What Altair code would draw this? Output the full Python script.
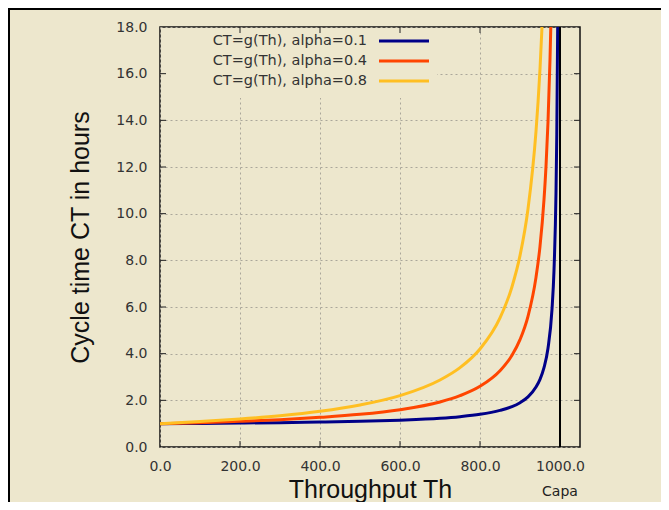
import altair as alt
import pandas as pd

# ---- data ----
th_a01 = [0, 100, 200, 300, 400, 500, 600, 700, 750, 800, 850, 880, 900, 920, 940, 950, 960, 970, 980, 985, 990, 992, 994.2]
ct_a01 = [1.00, 1.01, 1.03, 1.04, 1.07, 1.10, 1.15, 1.23, 1.30, 1.40, 1.57, 1.73, 1.90, 2.15, 2.57, 2.90, 3.40, 4.23, 5.90, 7.57, 10.90, 13.40, 18.0]
th_a04 = [0, 100, 200, 300, 400, 500, 600, 700, 750, 800, 850, 880, 900, 920, 940, 950, 960, 965, 970, 975, 977]
ct_a04 = [1.00, 1.04, 1.10, 1.17, 1.27, 1.40, 1.60, 1.93, 2.20, 2.60, 3.27, 3.93, 4.60, 5.60, 7.27, 8.60, 10.60, 12.03, 13.93, 16.60, 18.0]
th_a08 = [0, 100, 200, 300, 400, 500, 600, 700, 750, 800, 850, 880, 900, 920, 940, 945, 950, 955]
ct_a08 = [1.00, 1.09, 1.20, 1.34, 1.53, 1.80, 2.20, 2.87, 3.40, 4.20, 5.53, 6.87, 8.20, 10.20, 13.53, 14.75, 16.20, 18.0]

series_labels = ["CT=g(Th), alpha=0.1", "CT=g(Th), alpha=0.4", "CT=g(Th), alpha=0.8"]
series_colors = ["#000088", "#ff4500", "#ffbf22"]
series_th = [th_a01, th_a04, th_a08]
series_ct = [ct_a01, ct_a04, ct_a08]

capacity = [1000]
capa_label = ["Capa"]
x_ticks = [0, 200, 400, 600, 800, 1000]
y_ticks = [0, 2, 4, 6, 8, 10, 12, 14, 16, 18]

BG = "#ede7cd"
W, H = 420, 420

xscale = alt.Scale(domain=[0, 1050], nice=False, zero=False)
yscale = alt.Scale(domain=[0, 18], nice=False, zero=False)

xaxis = alt.Axis(values=x_ticks, format=".1f", title="Throughput Th", grid=True,
                 ticks=False, domain=False, labelPadding=12, labelFlush=False,
                 titleBaseline="alphabetic", titleY=50)
yaxis = alt.Axis(values=y_ticks, format=".1f", title="Cycle time CT in hours", grid=True,
                 ticks=False, domain=False, labelPadding=13, titlePadding=22)

# base layer carrying axes (invisible points)
base_df = pd.DataFrame({"th": [0], "ct": [0]})
base = alt.Chart(base_df).mark_point(opacity=0).encode(
    x=alt.X("th:Q", scale=xscale, axis=xaxis),
    y=alt.Y("ct:Q", scale=yscale, axis=yaxis),
)

# mask of legend box over grid
mask = alt.Chart(base_df).mark_rect(fill=BG, stroke=None).encode(
    x=alt.value(1), x2=alt.value(277), y=alt.value(1), y2=alt.value(71)
)

layers = [base, mask]

# inward tick marks (bottom, top, left, right)
xt = pd.DataFrame({"th": x_ticks[1:-1]})
yt = pd.DataFrame({"ct": y_ticks[1:-1]})
tick_style = dict(color="#222222", strokeWidth=1)
layers.append(alt.Chart(xt).mark_rule(**tick_style).encode(
    x=alt.X("th:Q", scale=xscale), y=alt.value(H), y2=alt.value(H - 6)))
layers.append(alt.Chart(xt).mark_rule(**tick_style).encode(
    x=alt.X("th:Q", scale=xscale), y=alt.value(0), y2=alt.value(6)))
layers.append(alt.Chart(yt).mark_rule(**tick_style).encode(
    y=alt.Y("ct:Q", scale=yscale), x=alt.value(0), x2=alt.value(6)))
layers.append(alt.Chart(yt).mark_rule(**tick_style).encode(
    y=alt.Y("ct:Q", scale=yscale), x=alt.value(W), x2=alt.value(W - 6)))

# curves
for lab, col, th, ct in zip(series_labels, series_colors, series_th, series_ct):
    df = pd.DataFrame({"th": th, "ct": ct})
    layers.append(alt.Chart(df).mark_line(color=col, strokeWidth=3, interpolate="monotone").encode(
        x=alt.X("th:Q", scale=xscale), y=alt.Y("ct:Q", scale=yscale)))

# capacity line
cap_df = pd.DataFrame({"th": capacity, "label": capa_label})
layers.append(alt.Chart(cap_df).mark_rule(color="black", strokeWidth=2).encode(
    x=alt.X("th:Q", scale=xscale), y=alt.datum(0, scale=yscale), y2=alt.datum(18)))
layers.append(alt.Chart(cap_df).mark_text(font="DejaVu Sans", fontSize=14, color="#222222",
                                          baseline="middle").encode(
    x=alt.X("th:Q", scale=xscale), y=alt.value(H + 45), text="label:N"))

# manual legend (label left, sample right)
for i, (lab, col) in enumerate(zip(series_labels, series_colors)):
    ldf = pd.DataFrame({"label": [lab]})
    yy = 14 + 20 * i
    layers.append(alt.Chart(ldf).mark_text(font="DejaVu Sans", fontSize=14.5, color="#333333",
                                           align="right", baseline="middle").encode(
        x=alt.value(207), y=alt.value(yy), text="label:N"))
    layers.append(alt.Chart(ldf).mark_rule(color=col, strokeWidth=3).encode(
        x=alt.value(219), x2=alt.value(269), y=alt.value(yy)))

# outer frame (left and top edges)
layers.append(alt.Chart(base_df).mark_rule(color="black", strokeWidth=2).encode(
    x=alt.value(-151), y=alt.value(-19), y2=alt.value(H + 55)))
layers.append(alt.Chart(base_df).mark_rule(color="black", strokeWidth=2).encode(
    x=alt.value(-152), x2=alt.value(W + 81), y=alt.value(-18)))

chart = alt.layer(*layers).properties(
    width=W, height=H,
    autosize=alt.AutoSizeParams(type="none"),
    padding={"left": 152, "top": 19, "right": 81, "bottom": 55},
    background=BG,
).configure_view(
    stroke="#111111", strokeWidth=1.5, fill=BG
).configure_axis(
    labelFont="DejaVu Sans", labelFontSize=14, labelColor="#333333",
    titleFont="Liberation Sans", titleFontSize=25, titleFontWeight="normal", titleColor="#111111",
    gridColor="#aaa79a", gridDash=[2, 3], gridWidth=1,
)

chart.save("out.html", embed_options={"renderer": "svg", "actions": False})
